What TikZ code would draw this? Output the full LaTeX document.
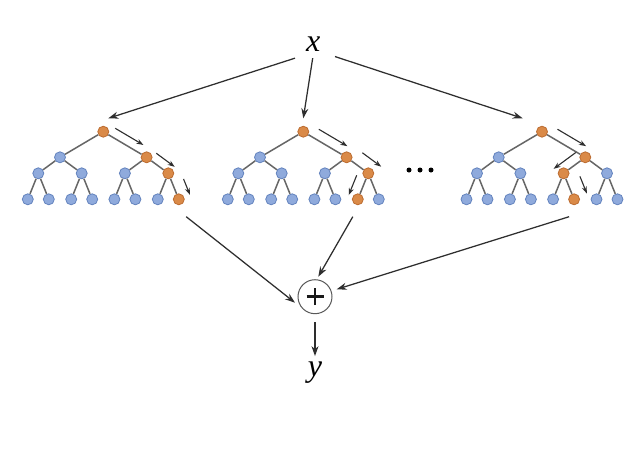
\documentclass[tikz,border=0pt]{standalone}
\usepackage{fontspec}
\setmainfont{Liberation Serif}
\usetikzlibrary{calc,arrows.meta}
\definecolor{nblue}{HTML}{8FAADC}
\definecolor{nblueD}{HTML}{6383BE}
\definecolor{norange}{HTML}{DA8A48}
\definecolor{norangeD}{HTML}{BC6C30}
\definecolor{edgeg}{HTML}{666666}
\definecolor{arrg}{HTML}{2E2E2E}
\tikzset{
 tn/.style={circle, draw=nblueD, fill=nblue, line width=0.8pt, minimum size=11pt, inner sep=0pt},
 tno/.style={tn, draw=norangeD, fill=norange},
 tedge/.style={draw=edgeg, line width=1.5pt},
 parrow/.style={draw=arrg, line width=1.1pt, -{Stealth[length=7pt,width=5pt]}},
 marrow/.style={draw=arrg, line width=1.25pt, -{Stealth[length=10pt,width=7pt]}},
 lab/.style={font=\fontsize{32}{32}\selectfont\itshape, inner sep=2pt},
 dotnode/.style={circle, fill=black, minimum size=5pt, inner sep=0pt},
}
\newcommand\mytree[5]{%
 \node[tno] (#1-0) at (#2,-131.7) {};
 \foreach \i in {1,2}{%
   \ifnum\i=#3\relax \tikzset{cur/.style={tno}}\else\tikzset{cur/.style={tn}}\fi
   \pgfmathsetmacro\s{2*\i-3}
   \node[cur] (#1-\i) at ($(#1-0)+(\s*43.3,-25.6)$) {};
 }
 \foreach \i in {3,...,6}{%
   \ifnum\i=#4\relax \tikzset{cur/.style={tno}}\else\tikzset{cur/.style={tn}}\fi
   \pgfmathtruncatemacro\p{(\i-1)/2}
   \pgfmathsetmacro\s{2*mod(\i+1,2)-1}
   \node[cur] (#1-\i) at ($(#1-\p)+(\s*21.7,-16)$) {};
 }
 \foreach \i in {7,...,14}{%
   \ifnum\i=#5\relax \tikzset{cur/.style={tno}}\else\tikzset{cur/.style={tn}}\fi
   \pgfmathtruncatemacro\p{(\i-1)/2}
   \pgfmathsetmacro\s{2*mod(\i+1,2)-1}
   \node[cur] (#1-\i) at ($(#1-\p)+(\s*10.5,-26)$) {};
 }
 \foreach \i in {1,...,14}{%
   \pgfmathtruncatemacro\p{(\i-1)/2}
   \draw[tedge] (#1-\p) -- (#1-\i);
 }
}
\newcommand\parr[6]{\draw[parrow] ($(#1)!#3!(#2)!#5pt!#6:(#1)$) -- ($(#1)!#4!(#2)!#5pt!#6:(#1)$);}
\begin{document}
\begin{tikzpicture}[x=1pt,y=1pt]
\useasboundingbox (0,0) rectangle (641,-448);
\fill[white] (0,0) rectangle (641,-448);

\mytree{T1}{103.3}{2}{6}{14}
\mytree{T2}{303.3}{2}{6}{13}
\mytree{T3}{542}{2}{5}{12}

% path arrows
\parr{T1-0}{T1-2}{0.17}{0.82}{9}{-90}
\parr{T1-2}{T1-6}{0.2}{1.05}{9}{-90}
\parr{T1-6}{T1-14}{0.39}{1.0}{12}{-90}
\parr{T2-0}{T2-2}{0.24}{0.9}{10}{-90}
\parr{T2-2}{T2-6}{0.37}{1.24}{13}{-90}
\parr{T2-6}{T2-13}{0.22}{0.98}{10}{90}
\parr{T3-0}{T3-2}{0.24}{0.9}{10}{-90}
\parr{T3-2}{T3-5}{0.18}{1.2}{9.5}{90}
\parr{T3-5}{T3-12}{0.32}{0.98}{14}{-90}

% dots
\foreach \k/\xx in {1/409,2/420,3/431}
  \node[dotnode] (dot\k) at (\xx,-170) {};

% labels
\node[lab, anchor=base] (x) at (313.3,-51.7) {x};
\node[lab, anchor=base] (y) at (315,-376) {y};

% plus
\node[circle, draw=black!65, line width=1pt, minimum size=34pt, inner sep=0pt] (plus) at (315,-296.7) {};
\draw[line width=2.6pt, black!90] ($(plus.center)+(-8.5,0)$) -- ($(plus.center)+(8.5,0)$)
  ($(plus.center)+(0,-8.5)$) -- ($(plus.center)+(0,8.5)$);

% x to trees
\draw[marrow] ([shift={(-18.3,-13.8)}]x.center) -- ([shift={(5,13.4)}]T1-0.center);
\draw[marrow] ([shift={(-0.6,-13.8)}]x.center) -- ([shift={(0,13.4)}]T2-0.center);
\draw[marrow] ([shift={(21.7,-12.2)}]x.center) -- ([shift={(-19.3,13.4)}]T3-0.center);

% trees to plus
\draw[marrow] ([shift={(7.4,-17.4)}]T1-14.center) -- ([shift={(-20,-6)}]plus.center);
\draw[marrow] ([shift={(-5,-17.4)}]T2-13.center) -- ([shift={(3.3,20)}]plus.center);
\draw[marrow] ([shift={(-5,-17.4)}]T3-12.center) -- ([shift={(21.7,7.4)}]plus.center);

% plus to y
\draw[marrow, shorten <=8pt, shorten >=3pt] (plus) -- (y);
\end{tikzpicture}
\end{document}
